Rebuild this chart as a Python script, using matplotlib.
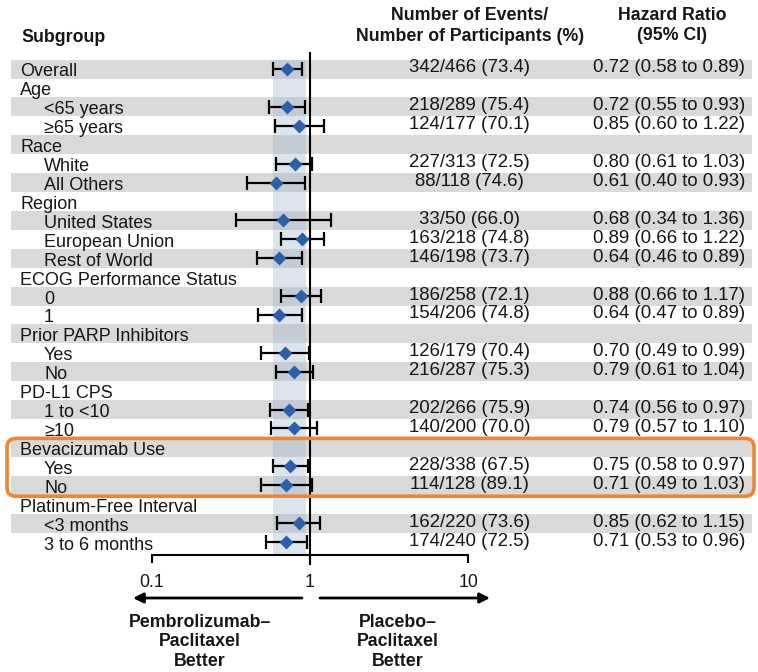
import numpy as np
import matplotlib
matplotlib.use("Agg")
import matplotlib.pyplot as plt
from matplotlib.patches import FancyBboxPatch

plt.rcParams['font.family'] = ['Liberation Sans', 'DejaVu Sans']

# ---- data -------------------------------------------------------------
labels = ["Overall", "Age", "<65 years", "≥65 years", "Race", "White", "All Others",
          "Region", "United States", "European Union", "Rest of World",
          "ECOG Performance Status", "0", "1", "Prior PARP Inhibitors", "Yes", "No",
          "PD-L1 CPS", "1 to <10", "≥10", "Bevacizumab Use", "Yes", "No",
          "Platinum-Free Interval", "<3 months", "3 to 6 months"]
indented = [False, False, True, True, False, True, True,
            False, True, True, True,
            False, True, True, False, True, True,
            False, True, True, False, True, True,
            False, True, True]
nan = np.nan
hr = [0.72, nan, 0.72, 0.85, nan, 0.80, 0.61, nan, 0.68, 0.89, 0.64,
      nan, 0.88, 0.64, nan, 0.70, 0.79, nan, 0.74, 0.79, nan, 0.75, 0.71,
      nan, 0.85, 0.71]
ci_low = [0.58, nan, 0.55, 0.60, nan, 0.61, 0.40, nan, 0.34, 0.66, 0.46,
          nan, 0.66, 0.47, nan, 0.49, 0.61, nan, 0.56, 0.57, nan, 0.58, 0.49,
          nan, 0.62, 0.53]
ci_high = [0.89, nan, 0.93, 1.22, nan, 1.03, 0.93, nan, 1.36, 1.22, 0.89,
           nan, 1.17, 0.89, nan, 0.99, 1.04, nan, 0.97, 1.10, nan, 0.97, 1.03,
           nan, 1.15, 0.96]
events = [342, None, 218, 124, None, 227, 88, None, 33, 163, 146,
          None, 186, 154, None, 126, 216, None, 202, 140, None, 228, 114,
          None, 162, 174]
participants = [466, None, 289, 177, None, 313, 118, None, 50, 218, 198,
                None, 258, 206, None, 179, 287, None, 266, 200, None, 338, 128,
                None, 220, 240]
percent = [73.4, None, 75.4, 70.1, None, 72.5, 74.6, None, 66.0, 74.8, 73.7,
           None, 72.1, 74.8, None, 70.4, 75.3, None, 75.9, 70.0, None, 67.5, 89.1,
           None, 73.6, 72.5]
band_range = (0.58, 0.95)
highlight_rows = (20, 22)
xticks = [0.1, 1, 10]
xtick_labels = ["0.1", "1", "10"]

# ---- layout (figure pixels, y measured from top) -----------------------
W, H = 758, 672
row0, pitch = 69.0, 18.92
row_y = row0 + pitch * np.arange(len(labels))
axis_y = 555.0
x_lo_px, x_hi_px = 151.7, 468.3
txt = '#161616'
fs = 13
fs_val = 13.4

fig = plt.figure(figsize=(W / 100, H / 100), dpi=100)

bg = fig.add_axes([0, 0, 1, 1])
bg.set_xlim(0, W)
bg.set_ylim(H, 0)
bg.axis('off')

# alternating row stripes
for i, y in enumerate(row_y):
    if i % 2 == 0:
        bg.add_patch(plt.Rectangle((11, y - 9.5), 741, 19, color='#d9d9d9', lw=0, zorder=0))

# headers
bg.text(21, 42, "Subgroup", fontsize=12.8, fontweight='bold', color=txt, va='baseline')
bg.text(470, 20, "Number of Events/", fontsize=12.8, fontweight='bold', color=txt,
        ha='center', va='baseline')
bg.text(470, 41, "Number of Participants (%)", fontsize=12.8, fontweight='bold', color=txt,
        ha='center', va='baseline')
bg.text(672, 20, "Hazard Ratio", fontsize=12.8, fontweight='bold', color=txt,
        ha='center', va='baseline')
bg.text(672, 40, "(95% CI)", fontsize=12.8, fontweight='bold', color=txt,
        ha='center', va='baseline')

# row labels and value columns
for i, y in enumerate(row_y):
    bg.text(44 if indented[i] else 20, y + 7.5, labels[i], fontsize=fs, color=txt,
            va='baseline')
    if events[i] is not None:
        bg.text(469.5, y + 3.5, f"{events[i]}/{participants[i]} ({percent[i]:.1f})",
                fontsize=fs_val, color=txt, ha='center', va='baseline')
        bg.text(669, y + 3.5, f"{hr[i]:.2f} ({ci_low[i]:.2f} to {ci_high[i]:.2f})",
                fontsize=fs_val, color=txt, ha='center', va='baseline')

# direction arrows and captions
arrow_kw = dict(arrowstyle='-|>', lw=2, color='black', mutation_scale=15,
                shrinkA=0, shrinkB=0)
bg.annotate("", xy=(133, 598), xytext=(302, 598), arrowprops=arrow_kw)
bg.annotate("", xy=(490, 598), xytext=(320, 598), arrowprops=arrow_kw)
bg.text(200, 642, "Pembrolizumab–\nPaclitaxel\nBetter", fontsize=12.8, fontweight='bold',
        color=txt, ha='center', va='center', linespacing=1.2)
bg.text(398, 642, "Placebo–\nPaclitaxel\nBetter", fontsize=12.8, fontweight='bold',
        color=txt, ha='center', va='center', linespacing=1.2)

# ---- forest panel ------------------------------------------------------
ax = fig.add_axes([x_lo_px / W, (H - axis_y) / H, (x_hi_px - x_lo_px) / W, axis_y / H])
ax.set_facecolor('none')
ax.set_xscale('log')
ax.set_xlim(0.1, 10)
ax.set_ylim(axis_y, 0)
for s in ('top', 'left', 'right'):
    ax.spines[s].set_visible(False)
ax.spines['bottom'].set_linewidth(1.5)
ax.set_yticks([])
ax.set_xticks(xticks)
ax.set_xticklabels(xtick_labels)
ax.xaxis.set_minor_locator(matplotlib.ticker.NullLocator())
ax.tick_params(axis='x', direction='out', length=6, width=1.5, pad=8,
               labelsize=12.8, labelcolor=txt)

ax.fill_betweenx([row_y[0] - 9.5, axis_y], band_range[0], band_range[1],
                 color='#9bb0d0', alpha=0.34, lw=0, zorder=1)
ax.plot([1, 1], [53, axis_y + 9], color='black', lw=1.5, clip_on=False, zorder=2)

hr_a = np.array(hr)
lo_a = np.array(ci_low)
hi_a = np.array(ci_high)
ok = ~np.isnan(hr_a)
ax.errorbar(hr_a[ok], row_y[ok], xerr=[hr_a[ok] - lo_a[ok], hi_a[ok] - hr_a[ok]],
            fmt='none', ecolor='black', elinewidth=1.6, capsize=4.8, capthick=1.6,
            zorder=3, clip_on=False)
ax.plot(hr_a[ok], row_y[ok], 'D', color='#2d5fa8', ms=7, mec='none', zorder=4,
        clip_on=False)

# highlighted subgroup frame
top = row_y[highlight_rows[0]] - 9
bot = row_y[highlight_rows[1]] + 11
frame = FancyBboxPatch((7, top), 747, bot - top,
                       boxstyle="round,pad=0,rounding_size=9",
                       fill=False, ec='#ef8431', lw=2.6, transform=bg.transData,
                       zorder=5)
fig.add_artist(frame)

fig.savefig("out.png", dpi=100)
